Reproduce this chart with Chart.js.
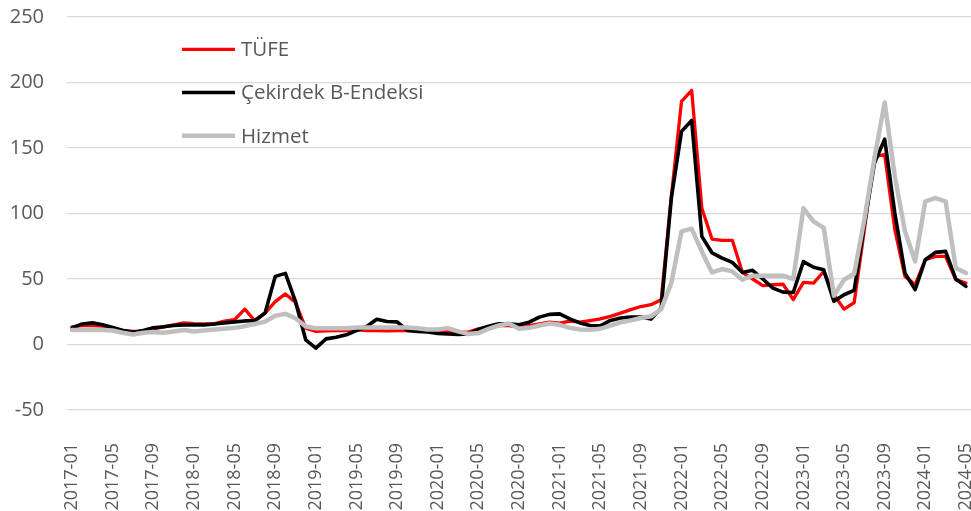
<!DOCTYPE html>
<html>
<head>
<meta charset="utf-8">
<script src="https://cdn.jsdelivr.net/npm/chart.js@4.4.1/dist/chart.umd.min.js"></script>
<style>
  html, body { margin: 0; padding: 0; background: #fff; overflow: hidden; }
  #wrap { width: 971px; height: 511px; overflow: hidden; }
</style>
</head>
<body>
<div id="wrap"><canvas id="chart" width="975" height="511"></canvas></div>
<script>
  // aylar: 2017-01 .. 2024-05
  const months = [];
  for (let y = 2017; y <= 2024; y++) {
    for (let m = 1; m <= 12; m++) {
      if (y === 2024 && m > 5) break;
      months.push(y + '-' + String(m).padStart(2, '0'));
    }
  }

  const yTicks = [-50, 0, 50, 100, 150, 200, 250];

  const tufe = [
    13.5, 14.5, 14.5, 14, 12.7, 10.7, 10, 10, 12, 13.5, 15, 16.5,
    16, 15.7, 15.7, 17.8, 19, 27, 18, 24, 32.7, 38.6, 32, 12.4,
    10, 10.4, 10.7, 10.7, 11.2, 10.7, 10.7, 10.4, 10.7, 10.7, 10.7, 10,
    10, 10, 9.5, 9.5, 12, 13.2, 14.5, 14.5, 13.2, 14.5, 15.8, 17,
    16.3, 17.8, 17, 18.3, 19.5, 21.5, 24, 26.6, 29, 30.4, 34.2, 113,
    185.6, 194, 104, 80.5, 79.5, 79.5, 55, 50, 44.9, 45.6, 46, 34.2,
    47.4, 46.8, 55.7, 38, 27, 32, 87.6, 143.6, 145, 87.6, 52, 45.6,
    64.7, 67.2, 67.2, 49.5, 46.9
  ];

  const cekirdek = [
    12.7, 15.7, 16.5, 15, 13, 10.7, 9.4, 10.7, 12.7, 13.5, 14.5, 15,
    15, 15, 15.7, 16.5, 17.3, 18, 18.3, 24, 52, 54.3, 32.7, 3.6,
    -2.8, 4.3, 5.6, 7.4, 10.7, 13.7, 19.3, 17.5, 17.3, 10.7, 10, 9.5,
    8.5, 8, 7.6, 8, 11.5, 14, 15.8, 15.8, 15, 17, 20.9, 23,
    23.4, 19.6, 16.5, 14.5, 14.2, 18.4, 20.2, 21, 21, 19.4, 27.9, 112,
    162.7, 171, 82.5, 70, 66, 62.7, 55, 56.6, 50, 43, 40, 39.7,
    63.3, 59, 57, 33, 38, 41.3, 91.4, 138.5, 156.8, 100.3, 54.5, 41.9,
    64.7, 70.3, 71.1, 50, 44.4
  ];

  const hizmet = [
    11, 11, 11, 11, 10.7, 9, 7.6, 9, 9.6, 9, 10, 11,
    10, 10.7, 11.4, 12, 12.7, 14, 15.7, 17.5, 22, 23.4, 20, 13.7,
    12.4, 12.4, 12.4, 12.4, 13, 13, 13, 13, 13, 13, 12.4, 11.5,
    11.5, 12.5, 10, 8, 8.7, 12, 14.5, 16, 12, 12.7, 14.5, 16,
    15, 12.7, 11.5, 11.2, 12, 14.4, 16.9, 18.4, 20.2, 21.5, 27, 47,
    86.4, 88.4, 71, 55, 57.6, 55.8, 49.5, 52.5, 52.5, 52.5, 52.5, 49.9,
    104, 94, 89, 37.3, 49.4, 54, 95.3, 142.4, 184.8, 128.3, 86.4, 63.5,
    109.3, 111.8, 109.3, 58.4, 54.6
  ];

  const TXT = '#595959';
  const FONT = '"Open Sans", "Noto Sans", sans-serif';

  // legend inside the plot, upper left (Excel style)
  const legendInside = {
    id: 'legendInside',
    afterDatasetsDraw(chart) {
      const ctx = chart.ctx;
      const x0 = chart.chartArea.left + 115;
      chart.data.datasets.forEach((ds, i) => {
        const y = 49.3 + i * 43.2;
        ctx.save();
        ctx.strokeStyle = ds.borderColor;
        ctx.lineWidth = ds.borderWidth;
        ctx.beginPath();
        ctx.moveTo(x0, y);
        ctx.lineTo(x0 + 53, y);
        ctx.stroke();
        ctx.fillStyle = TXT;
        ctx.font = '20.5px ' + FONT;
        ctx.textBaseline = 'middle';
        ctx.fillText(ds.label, x0 + 59, y + 1);
        ctx.restore();
      });
    }
  };

  const mkSet = (label, data, color, width, order) => ({
    label, data,
    borderColor: color,
    backgroundColor: color,
    borderWidth: width,
    pointRadius: 0,
    tension: 0,
    fill: false,
    borderJoinStyle: 'round',
    borderCapStyle: 'round',
    order
  });

  new Chart(document.getElementById('chart'), {
    type: 'line',
    data: {
      labels: months,
      datasets: [
        mkSet('TÜFE', tufe, '#ff0000', 3.3, 3),
        mkSet('Çekirdek B-Endeksi', cekirdek, '#000000', 3.6, 2),
        mkSet('Hizmet', hizmet, '#bfbfbf', 4.5, 1)
      ]
    },
    options: {
      responsive: false,
      animation: false,
      devicePixelRatio: 1,
      layout: { padding: { top: 17, right: 4, bottom: 0, left: 0 } },
      plugins: {
        legend: { display: false },
        tooltip: { enabled: false }
      },
      scales: {
        x: {
          type: 'category',
          offset: true,
          grid: { display: false },
          border: { display: false },
          ticks: {
            autoSkip: false,
            minRotation: 90,
            maxRotation: 90,
            padding: 25,
            color: TXT,
            font: { family: FONT, size: 18 },
            callback: (v, i) => (i % 4 === 0 ? months[i] : '')
          },
          afterFit: axis => {
            axis.height = 101;
            axis.paddingLeft = 0;
            axis.paddingRight = 0;
          }
        },
        y: {
          min: -50,
          max: 250,
          afterBuildTicks: axis => { axis.ticks = yTicks.map(v => ({ value: v })); },
          grid: { color: '#d9d9d9', lineWidth: 1.3, drawTicks: false },
          border: { display: false },
          ticks: {
            padding: 23,
            color: TXT,
            font: { family: FONT, size: 20 }
          },
          afterFit: axis => {
            axis.width = 67;
            axis.paddingTop = 0;
            axis.paddingBottom = 0;
          }
        }
      }
    },
    plugins: [legendInside]
  });
</script>
</body>
</html>
